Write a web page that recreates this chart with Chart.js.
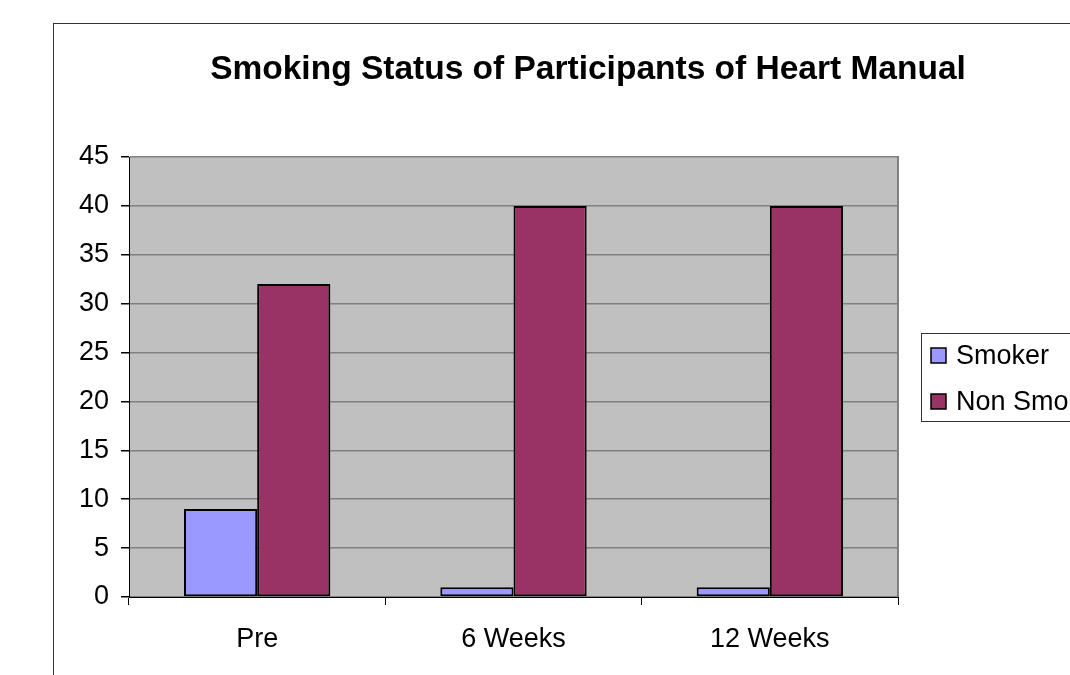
<!DOCTYPE html>
<html>
<head>
<meta charset="utf-8">
<script src="https://cdn.jsdelivr.net/npm/chart.js@4/dist/chart.umd.min.js"></script>
<style>
  html, body { margin: 0; padding: 0; background: #fff; overflow: hidden; width: 1070px; height: 675px; }
  #frame { position: absolute; left: 53px; top: 23px; width: 1016px; height: 651px;
           border-left: 1px solid #333; border-top: 1px solid #333; }
  #c { display: block; }
</style>
</head>
<body>
<div id="frame"><canvas id="c" width="1016" height="651"></canvas></div>
<script>
const chartTitle = 'Smoking Status of Participants of Heart Manual';
const categories = ['Pre', '6 Weeks', '12 Weeks'];
const smoker = [9, 1, 1];
const nonSmoker = [32, 40, 40];
const seriesNames = ['Smoker', 'Non Smoker'];
const yTicks = [0, 5, 10, 15, 20, 25, 30, 35, 40, 45];

const FONT = '"Liberation Sans", Arial, sans-serif';

const decor = {
  id: 'decor',
  beforeDraw(chart) {
    const a = chart.chartArea, ctx = chart.ctx;
    ctx.save();
    ctx.fillStyle = '#c0c0c0';
    ctx.fillRect(a.left, a.top, a.right - a.left, a.bottom - a.top);
    ctx.restore();
  },
  afterDraw(chart) {
    const a = chart.chartArea, ctx = chart.ctx;
    ctx.save();
    // right border of plot area
    ctx.strokeStyle = '#808080';
    ctx.lineWidth = 2;
    ctx.beginPath();
    ctx.moveTo(a.right, a.top - 1);
    ctx.lineTo(a.right, a.bottom);
    ctx.stroke();
    // title
    ctx.fillStyle = '#000';
    ctx.font = 'bold 33.5px ' + FONT;
    ctx.textAlign = 'center';
    ctx.textBaseline = 'alphabetic';
    ctx.fillText(chartTitle, 534, 55);
    // legend box
    ctx.strokeStyle = '#333';
    ctx.lineWidth = 1;
    ctx.strokeRect(867.5, 309.5, 300, 88);
    const ds = chart.data.datasets;
    const rows = [340, 386];
    ctx.font = '27px ' + FONT;
    ctx.textAlign = 'left';
    ds.forEach((d, i) => {
      const base = rows[i];
      ctx.fillStyle = d.backgroundColor;
      ctx.fillRect(877, base - 16, 15, 15);
      ctx.strokeStyle = '#000';
      ctx.lineWidth = 1.5;
      ctx.strokeRect(877, base - 16, 15, 15);
      ctx.fillStyle = '#000';
      ctx.fillText(d.label, 902, base);
    });
    ctx.restore();
  }
};

new Chart(document.getElementById('c'), {
  type: 'bar',
  data: {
    labels: categories,
    datasets: [
      { label: seriesNames[0], data: smoker, backgroundColor: '#9999ff', borderColor: '#000', borderWidth: 2, borderSkipped: false },
      { label: seriesNames[1], data: nonSmoker, backgroundColor: '#993366', borderColor: '#000', borderWidth: 2, borderSkipped: false }
    ]
  },
  options: {
    responsive: false,
    animation: false,
    devicePixelRatio: 1,
    layout: { padding: { left: 0, right: 172, top: 133, bottom: 0 } },
    datasets: { bar: { categoryPercentage: 0.571, barPercentage: 1.0 } },
    plugins: { legend: { display: false }, title: { display: false }, tooltip: { enabled: false } },
    scales: {
      x: {
        afterFit(s) { s.height = 78; },
        grid: { offset: true, drawOnChartArea: false, drawTicks: true, tickLength: 8, tickColor: '#000', lineWidth: 1 },
        border: { color: '#000', width: 1 },
        ticks: { color: '#000', font: { family: FONT, size: 27 }, padding: 18, maxRotation: 0 }
      },
      y: {
        min: 0, max: 45,
        afterFit(s) { s.width = 75; },
        afterBuildTicks(s) { s.ticks = yTicks.map(v => ({ value: v })); },
        grid: { color: '#808080', lineWidth: 1.5, tickLength: 8, tickColor: '#000' },
        border: { color: '#000', width: 1 },
        ticks: { color: '#000', font: { family: FONT, size: 27 }, padding: 12 }
      }
    }
  },
  plugins: [decor]
});
</script>
</body>
</html>
